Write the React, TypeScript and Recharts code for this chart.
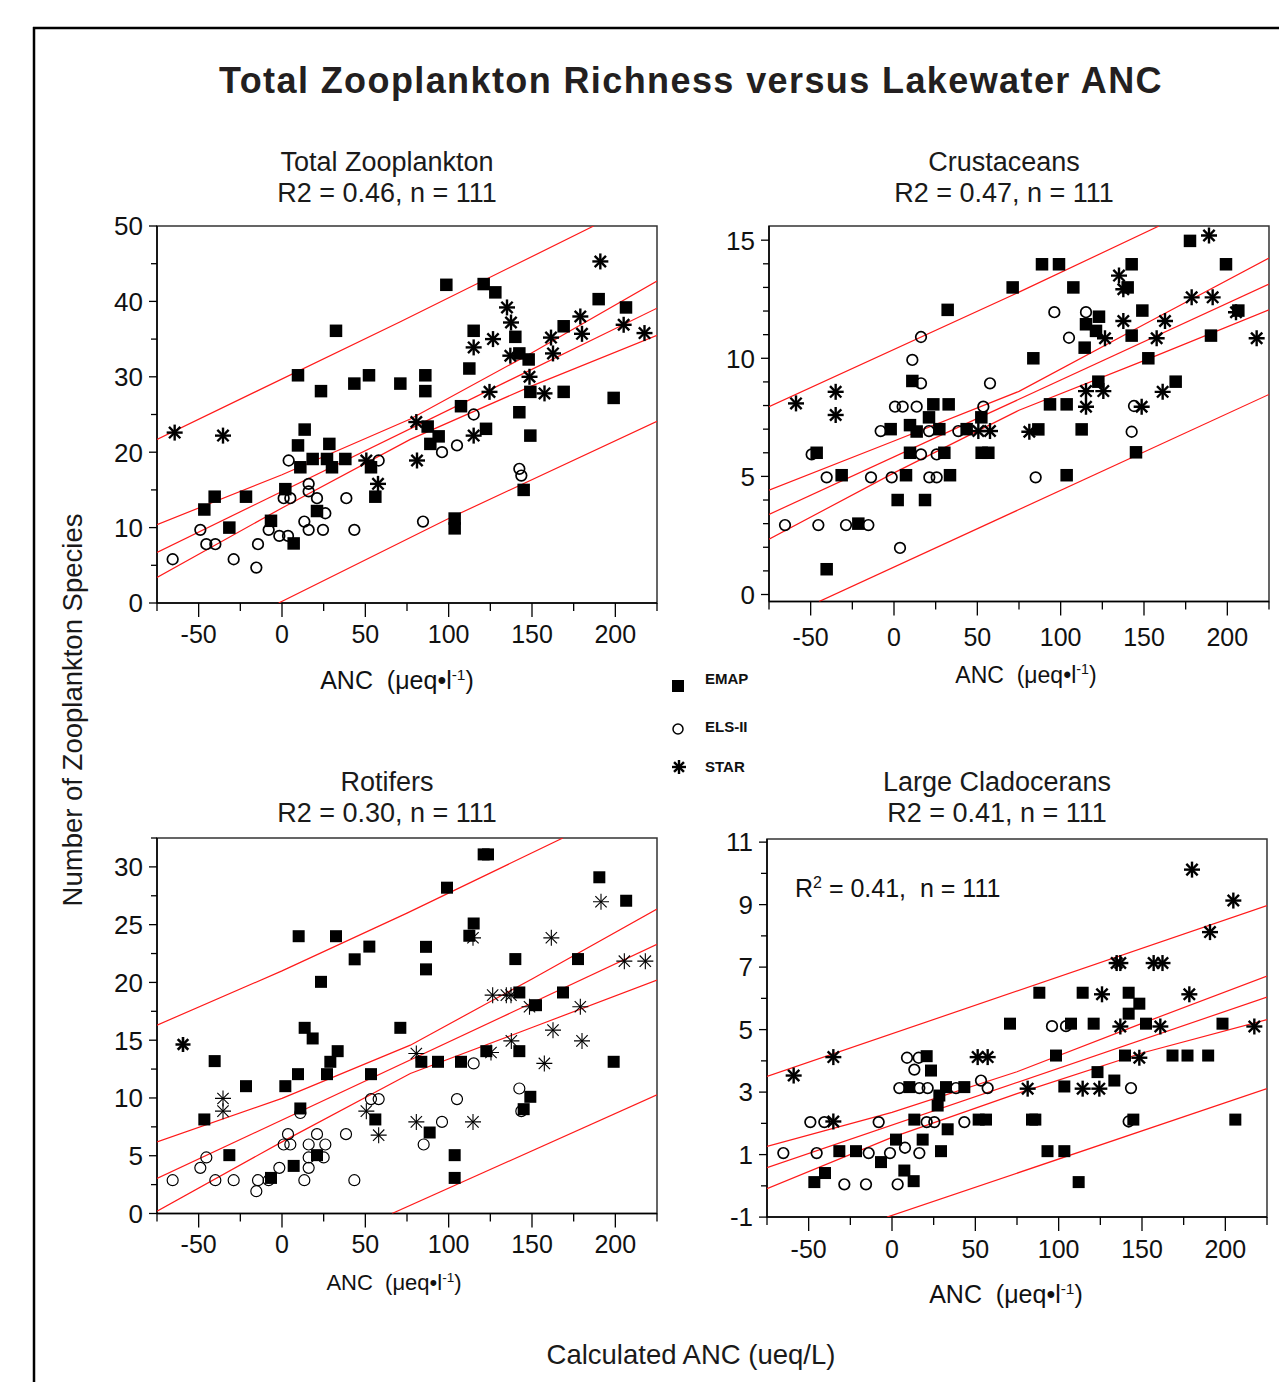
import React from 'react';
import { ScatterChart, Scatter, XAxis, YAxis, ReferenceArea } from 'recharts';

type Pt = [number, number];

// ---- shared axis ticks ----
const xTicks = [-75, -50, -25, 0, 25, 50, 75, 100, 125, 150, 175, 200, 225];
const totalYTicks = [0, 5, 10, 15, 20, 25, 30, 35, 40, 45, 50];
const crustYTicks = [0, 1, 2, 3, 4, 5, 6, 7, 8, 9, 10, 11, 12, 13, 14, 15];
const rotYTicks = [0, 2.5, 5, 7.5, 10, 12.5, 15, 17.5, 20, 22.5, 25, 27.5, 30, 32.5];
const cladYTicks = [-1, 0, 1, 2, 3, 4, 5, 6, 7, 8, 9, 10, 11];

// ---- Total Zooplankton ----
const totalEmap: Pt[] = [
  [32.4, 36.1], [9.6, 30.2], [23.4, 28.1], [43.4, 29.1], [52.2, 30.2], [71, 29.1], [13.6, 23.0], [9.6, 20.9],
  [28.4, 21.1], [18.4, 19.1], [11, 18.0], [27, 19.1], [30, 18.0], [38, 19.1], [53.4, 18.0], [2, 15.1],
  [-40.4, 14.1], [-21.6, 14.1], [-46.6, 12.4], [21, 12.2], [-6.6, 10.9], [-31.6, 10.0], [7, 7.9], [56, 14.1],
  [98.6, 42.2], [121, 42.3], [128, 41.2], [115, 36.1], [140, 35.3], [142.4, 33.1], [148, 32.3], [112.4, 31.1],
  [86, 30.2], [86, 28.1], [107.4, 26.1], [149, 28.0], [169, 28.0], [169, 36.7], [190, 40.3], [206.4, 39.2],
  [199, 27.2], [142.4, 25.3], [122.4, 23.1], [87.4, 23.4], [94, 22.1], [89, 21.1], [149, 22.2], [145, 15.0],
  [103.6, 11.2], [103.6, 9.9],
];
const totalEls: Pt[] = [
  [4, 18.9], [16, 15.8], [16, 14.8], [1, 13.9], [5, 13.9], [21, 13.9], [38.6, 13.9], [26, 11.9], [13.4, 10.8],
  [16, 9.7], [24.6, 9.7], [43.4, 9.7], [-8, 9.7], [-1.6, 8.9], [3.6, 8.9], [-49, 9.7], [-45.4, 7.8], [-40, 7.8],
  [-65.6, 5.8], [-29, 5.8], [-14.4, 7.8], [-15.4, 4.7], [58, 18.9], [115, 25.0], [105, 20.9], [96, 20.0],
  [142.4, 17.8], [143.6, 16.9], [84.6, 10.8],
];
const totalStar: Pt[] = [
  [-64.4, 22.6], [-35.4, 22.2], [50.6, 18.9], [57.6, 15.8], [191, 45.3], [135, 39.2], [137.4, 37.2], [115, 33.9],
  [126.6, 35.0], [137, 32.8], [148.5, 30.0], [124.5, 28.0], [157.5, 27.8], [161.4, 35.2], [162.6, 33.1],
  [179, 38.0], [180, 35.7], [205, 36.9], [217.5, 35.8], [80.6, 24.0], [115, 22.2], [81, 18.9],
];
const totalUpperPred: Pt[] = [[-75, 21.7], [71, 37.3], [187, 50]];
const totalUpperConf: Pt[] = [[-75, 10.4], [0, 17.0], [77, 24.4], [150, 33.2], [225, 42.7]];
const totalFit: Pt[] = [[-75, 6.7], [225, 39.1]];
const totalLowerConf: Pt[] = [[-75, 3.4], [0, 12.6], [77, 21.7], [150, 28.8], [225, 35.5]];
const totalLowerPred: Pt[] = [[-2, 0], [100, 11.2], [225, 24.1]];

// ---- Crustaceans ----
const crustEmap: Pt[] = [
  [71.2, 13.0], [32.2, 12.05], [11, 9.04], [23.6, 8.05], [32.8, 8.05], [21, 7.5], [9.6, 7.17], [13.6, 6.9],
  [27.2, 7.0], [-2, 7.0], [43.6, 7.0], [52.4, 7.5], [9.6, 6.0], [30.2, 6.0], [52.6, 6.0], [56.6, 6.0],
  [-46.4, 6.0], [7.2, 5.05], [33.6, 5.05], [-31.4, 5.05], [2.2, 4.0], [18.6, 4.0], [-21.4, 3.0], [-40.4, 1.07],
  [177.6, 14.97], [88.8, 13.98], [99, 13.98], [142.6, 13.98], [199.2, 13.98], [107.6, 13.0], [140.2, 13.0],
  [149, 12.02], [123, 11.76], [115.2, 11.44], [121.2, 11.16], [142.6, 10.96], [190.2, 10.96], [206.6, 12.02],
  [114.4, 10.45], [83.6, 10.0], [152.6, 10.0], [122.6, 9.01], [169, 9.01], [93.6, 8.05], [103.6, 8.05],
  [86.6, 6.99], [112.6, 6.99], [145.2, 6.02], [103.6, 5.05],
];
const crustEls: Pt[] = [
  [16.2, 10.9], [11, 9.93], [16.2, 8.94], [57.6, 8.94], [0.6, 7.95], [5.2, 7.95], [13.6, 7.95], [53.6, 7.95],
  [-8, 6.92], [21, 6.92], [38.6, 6.92], [-49.4, 5.93], [16.2, 5.93], [25.6, 5.93], [-40.4, 4.96], [-13.8, 4.96],
  [-1.4, 4.96], [21.2, 4.96], [25.6, 4.96], [-65.4, 2.94], [-45.4, 2.94], [-28.8, 2.94], [-15.4, 2.94],
  [3.6, 1.97], [96.2, 11.95], [115.2, 11.95], [105, 10.87], [144, 7.98], [142.6, 6.89], [85, 4.96],
];
const crustStar: Pt[] = [
  [-58.8, 8.09], [-35, 8.58], [-35, 7.6], [50.6, 6.92], [57.6, 6.92], [189, 15.2], [135, 13.5], [137.6, 12.92],
  [178.6, 12.58], [191.2, 12.58], [205.2, 11.95], [137.6, 11.58], [162.6, 11.58], [126.6, 10.85],
  [157.6, 10.85], [217.6, 10.85], [115.2, 8.61], [125.6, 8.61], [115.2, 7.95], [161.2, 8.58], [148.6, 7.95],
  [81.2, 6.89],
];
const crustUpperPred: Pt[] = [[-75, 7.95], [75, 12.8], [159, 15.6]];
const crustUpperConf: Pt[] = [[-75, 4.42], [0, 6.5], [75, 8.6], [150, 11.43], [225, 14.24]];
const crustFit: Pt[] = [[-75, 3.39], [225, 13.14]];
const crustLowerConf: Pt[] = [[-75, 2.34], [0, 5.15], [75, 7.8], [150, 9.9], [225, 12.05]];
const crustLowerPred: Pt[] = [[-45, -0.3], [225, 8.47]];

// ---- Rotifers ----
const rotEmap: Pt[] = [
  [10, 24.0], [32.4, 24.0], [52.4, 23.1], [43.6, 22.0], [23.4, 20.05], [71, 16.07], [13.6, 16.07],
  [18.4, 15.15], [33.4, 14.05], [29, 13.13], [-40.4, 13.19], [9.6, 12.06], [27, 12.06], [53.4, 12.06],
  [-21.6, 11.02], [2, 11.02], [11, 9.09], [-46.6, 8.14], [56, 8.14], [-31.6, 5.05], [21, 5.05], [7, 4.12],
  [-6.6, 3.08], [121, 31.08], [123.6, 31.08], [99, 28.2], [190.4, 29.1], [206.5, 27.07], [115, 25.1],
  [112.4, 24.04], [86.4, 23.08], [86.4, 21.13], [140, 22.02], [177.6, 22.02], [142.4, 19.13], [168.6, 19.13],
  [152.4, 18.03], [122.6, 14.05], [142.4, 14.05], [83.6, 13.13], [93.6, 13.13], [107.4, 13.13], [199, 13.13],
  [149, 10.1], [145, 9.03], [88.6, 7.01], [103.6, 5.05], [103.6, 3.08],
];
const rotEls: Pt[] = [
  [53.4, 9.9], [58, 9.9], [3.6, 6.87], [1, 5.97], [5, 5.97], [16, 5.97], [21, 6.87], [26, 5.97], [38.4, 6.87],
  [16, 4.85], [25, 4.85], [-45.4, 4.85], [-49, 3.95], [-1.6, 3.95], [16, 3.95], [-65.6, 2.88], [-40, 2.88],
  [-29, 2.88], [-14.4, 2.88], [-8, 2.88], [13.4, 2.88], [43.4, 2.88], [-15.4, 1.93], [11, 8.7], [115, 12.99],
  [105, 9.9], [96, 7.93], [85, 5.97], [142.4, 10.82], [143.6, 8.86],
];
const rotStarBold: Pt[] = [[-59.4, 14.63]];
const rotStar: Pt[] = [
  [-35.4, 9.96], [-35.4, 8.86], [50.6, 8.86], [58, 6.78], [191.4, 26.98], [161.6, 23.86], [114.6, 23.86],
  [205.4, 21.84], [218, 21.84], [126.4, 18.9], [134.6, 18.9], [137.4, 18.9], [148.5, 17.89], [179, 17.89],
  [162.6, 15.87], [137.6, 14.94], [180, 14.94], [125.4, 13.94], [80.6, 13.85], [157.4, 12.99], [80.6, 7.93],
  [114.6, 7.93],
];
const rotUpperPred: Pt[] = [[-75, 16.3], [0, 21.0], [75, 26.0], [168.5, 32.5]];
const rotUpperConf: Pt[] = [[-75, 6.2], [0, 9.96], [77, 14.57], [150, 20.3], [225, 26.35]];
const rotFit: Pt[] = [[-75, 3.03], [225, 23.29]];
const rotLowerConf: Pt[] = [[-75, 0.2], [0, 6.2], [77, 12.12], [150, 16.1], [225, 20.2]];
const rotLowerPred: Pt[] = [[66, 0], [225, 10.27]];

// ---- Large Cladocerans ----
const cladEmap: Pt[] = [
  [20.8, 4.15], [23.4, 3.69], [10.4, 3.16], [32.4, 3.16], [43.4, 3.16], [28.4, 2.89], [27.4, 2.57], [13.4, 2.12],
  [52, 2.12], [56.4, 2.12], [33.4, 1.81], [2.4, 1.48], [18.4, 1.48], [-31.6, 1.11], [-21.6, 1.11], [29.4, 1.11],
  [-6.6, 0.76], [7.4, 0.49], [-40.2, 0.41], [-46.6, 0.12], [13, 0.15], [70.8, 5.19], [88.4, 6.18],
  [114.4, 6.18], [142, 6.18], [148.4, 5.83], [142, 5.51], [107.4, 5.19], [121, 5.19], [152.4, 5.19],
  [198.3, 5.19], [98.4, 4.17], [139.8, 4.17], [168.3, 4.17], [177.3, 4.17], [189.7, 4.17], [123.3, 3.64],
  [133.4, 3.37], [103.4, 3.18], [84, 2.12], [86, 2.12], [144.8, 2.12], [206, 2.12], [93.3, 1.11],
  [103.4, 1.11], [112, 0.12],
];
const cladEls: Pt[] = [
  [9, 4.1], [16, 4.1], [13.4, 3.72], [4.4, 3.13], [16.4, 3.13], [21.4, 3.13], [38.4, 3.13], [53.4, 3.37],
  [57.4, 3.13], [-49, 2.04], [-40.6, 2.04], [-8, 2.04], [20.8, 2.04], [25.4, 2.04], [43.4, 2.04], [-65.2, 1.05],
  [-45.2, 1.05], [-14, 1.05], [-1.2, 1.05], [7.8, 1.22], [16.4, 1.05], [-28.6, 0.05], [-15.6, 0.05],
  [3.4, 0.05], [96, 5.11], [104.4, 5.11], [143.4, 3.13], [142, 2.06],
];
const cladStar: Pt[] = [
  [-59, 3.53], [-35.2, 4.12], [-35.2, 2.06], [51.4, 4.12], [57.4, 4.12], [180, 10.12], [204.8, 9.13],
  [190.8, 8.12], [134.8, 7.13], [137, 7.13], [157, 7.13], [162.3, 7.13], [126, 6.13], [178.4, 6.13],
  [137, 5.1], [161, 5.1], [217.4, 5.1], [148.4, 4.1], [81.4, 3.11], [114.4, 3.11], [124.4, 3.11],
];
const cladUpperPred: Pt[] = [[-75, 3.5], [225, 8.97]];
const cladUpperConf: Pt[] = [[-75, 1.26], [0, 2.35], [75, 3.65], [150, 5.2], [225, 6.71]];
const cladFit: Pt[] = [[-75, 0.58], [225, 6.04]];
const cladLowerConf: Pt[] = [[-75, -0.09], [0, 1.55], [75, 2.95], [150, 4.25], [225, 5.32]];
const cladLowerPred: Pt[] = [[-3, -1], [225, 3.11]];

const FONT = '"Liberation Sans", Arial, Helvetica, sans-serif';
const RED = '#ff1a1a';
const LM = 70;
const TM = 24;
const RM = 10;
const BM = 60;

const toXY = (a: Pt[]) => a.map(([x, y]) => ({ x, y }));

const squareShape = (s: number) => (p: any) => (
  <rect x={p.cx - s / 2} y={p.cy - s / 2} width={s} height={s} fill="#000" />
);
const ringShape = (r: number, w: number) => (p: any) => (
  <circle cx={p.cx} cy={p.cy} r={r} fill="#fff" fillOpacity={0} stroke="#000" strokeWidth={w} />
);
const starShape = (r: number, w: number) => (p: any) => {
  const { cx, cy } = p;
  const d = r * 0.7071;
  return (
    <g stroke="#000" strokeWidth={w}>
      <line x1={cx - r} y1={cy} x2={cx + r} y2={cy} />
      <line x1={cx} y1={cy - r} x2={cx} y2={cy + r} />
      <line x1={cx - d} y1={cy - d} x2={cx + d} y2={cy + d} />
      <line x1={cx - d} y1={cy + d} x2={cx + d} y2={cy - d} />
    </g>
  );
};
const noShape = () => <g />;

const isStep = (v: number, step: number, base = 0) => {
  const k = (v - base) / step;
  return Math.abs(k - Math.round(k)) < 1e-6;
};

interface PanelCfg {
  left: number;
  top: number;
  w: number;
  h: number;
  yDomain: [number, number];
  yTicks: number[];
  yStep: number;
  yBase: number;
  xOff: number;
  lines: Pt[][];
  emap: Pt[];
  els: Pt[];
  star: Pt[];
  starBold?: Pt[];
  sq: number;
  ring: [number, number];
  st: [number, number];
}

const Panel = ({ c }: { c: PanelCfg }) => {
  const XTick = (p: any) => {
    const v = p.payload.value;
    const major = isStep(v, 50);
    return (
      <g>
        <line x1={p.x} x2={p.x} y1={p.y} y2={p.y + (major ? 14 : 8)} stroke="#000" strokeWidth={1.3} />
        {major && (
          <text x={p.x} y={p.y + c.xOff} textAnchor="middle" fontSize={25} fontFamily={FONT} fill="#111">
            {v}
          </text>
        )}
      </g>
    );
  };
  const YTick = (p: any) => {
    const v = p.payload.value;
    const major = isStep(v, c.yStep, c.yBase);
    return (
      <g>
        <line x1={p.x} x2={p.x - (major ? 8 : 6)} y1={p.y} y2={p.y} stroke="#000" strokeWidth={1.3} />
        {major && (
          <text x={p.x - 14} y={p.y} dy="0.36em" textAnchor="end" fontSize={26} fontFamily={FONT} fill="#111">
            {v}
          </text>
        )}
      </g>
    );
  };
  return (
    <div style={{ position: 'absolute', left: c.left - LM, top: c.top - TM }}>
      <ScatterChart
        width={c.w + LM + RM}
        height={c.h + TM + BM}
        margin={{ top: TM, right: RM, bottom: 0, left: 0 }}
      >
        <XAxis
          type="number"
          dataKey="x"
          domain={[-75, 225]}
          ticks={xTicks}
          interval={0}
          allowDataOverflow
          height={BM}
          tickSize={0}
          tickMargin={0}
          tickLine={false}
          axisLine={{ stroke: '#000', strokeWidth: 1.5 }}
          tick={XTick}
        />
        <YAxis
          type="number"
          dataKey="y"
          domain={c.yDomain}
          ticks={c.yTicks}
          interval={0}
          allowDataOverflow
          width={LM}
          tickSize={0}
          tickMargin={0}
          tickLine={false}
          axisLine={{ stroke: '#000', strokeWidth: 1.5 }}
          tick={YTick}
        />
        <ReferenceArea
          x1={-75}
          x2={225}
          y1={c.yDomain[0]}
          y2={c.yDomain[1]}
          fill="none"
          stroke="#333"
          strokeWidth={1.5}
        />
        {c.lines.map((ln, i) => (
          <Scatter
            key={'l' + i}
            data={toXY(ln)}
            line={{ stroke: RED, strokeWidth: 1.2 }}
            shape={noShape}
            isAnimationActive={false}
            legendType="none"
          />
        ))}
        <Scatter data={toXY(c.els)} shape={ringShape(c.ring[0], c.ring[1])} isAnimationActive={false} />
        <Scatter data={toXY(c.emap)} shape={squareShape(c.sq)} isAnimationActive={false} />
        <Scatter data={toXY(c.star)} shape={starShape(c.st[0], c.st[1])} isAnimationActive={false} />
        {c.starBold && (
          <Scatter data={toXY(c.starBold)} shape={starShape(7.5, 2.6)} isAnimationActive={false} />
        )}
      </ScatterChart>
    </div>
  );
};

const panels: PanelCfg[] = [
  {
    left: 156.7, top: 226, w: 500, h: 377, yDomain: [0, 50], yTicks: totalYTicks, yStep: 10, yBase: 0, xOff: 40,
    lines: [totalUpperPred, totalUpperConf, totalFit, totalLowerConf, totalLowerPred],
    emap: totalEmap, els: totalEls, star: totalStar, sq: 12.5, ring: [5.3, 1.7], st: [8, 2.4],
  },
  {
    left: 769.3, top: 225.8, w: 500, h: 375.6, yDomain: [-0.3, 15.6], yTicks: crustYTicks, yStep: 5, yBase: 0, xOff: 44,
    lines: [crustUpperPred, crustUpperConf, crustFit, crustLowerConf, crustLowerPred],
    emap: crustEmap, els: crustEls, star: crustStar, sq: 12.5, ring: [5.3, 1.7], st: [8, 2.4],
  },
  {
    left: 156.7, top: 837.8, w: 500, h: 375.5, yDomain: [0, 32.5], yTicks: rotYTicks, yStep: 5, yBase: 0, xOff: 39,
    lines: [rotUpperPred, rotUpperConf, rotFit, rotLowerConf, rotLowerPred],
    emap: rotEmap, els: rotEls, star: rotStar, starBold: rotStarBold, sq: 12, ring: [5.5, 1.2], st: [8, 1.1],
  },
  {
    left: 767.3, top: 838.6, w: 500, h: 378.1, yDomain: [-1, 11.1], yTicks: cladYTicks, yStep: 2, yBase: -1, xOff: 41,
    lines: [cladUpperPred, cladUpperConf, cladFit, cladLowerConf, cladLowerPred],
    emap: cladEmap, els: cladEls, star: cladStar, sq: 12, ring: [5.3, 1.7], st: [8, 2.4],
  },
];

const AncLabel = ({ x, y, size }: { x: number; y: number; size: number }) => (
  <text x={x} y={y} textAnchor="middle" fontSize={size} fontFamily={FONT} fill="#111" style={{ whiteSpace: 'pre' }}>
    <tspan>{'ANC  (μeq•l'}</tspan>
    <tspan dy={-size * 0.38} fontSize={size * 0.62}>-1</tspan>
    <tspan dy={size * 0.38}>)</tspan>
  </text>
);

const PanelTitle = ({ x, y, name, stat }: { x: number; y: number; name: string; stat: string }) => (
  <g fontSize={27} fontFamily={FONT} fill="#1a1a1a" textAnchor="middle">
    <text x={x} y={y}>{name}</text>
    <text x={x} y={y + 31}>{stat}</text>
  </g>
);

export default function App() {
  return (
    <div style={{ position: 'absolute', left: 0, top: 0, width: 1279, height: 1382, background: '#fff', overflow: 'hidden' }}>
      {panels.map((c, i) => (
        <Panel key={i} c={c} />
      ))}
      <svg width={1279} height={1382} style={{ position: 'absolute', left: 0, top: 0, pointerEvents: 'none' }}>
        <line x1={34} y1={27} x2={34} y2={1382} stroke="#000" strokeWidth={2.5} />
        <line x1={33} y1={28} x2={1279} y2={28} stroke="#000" strokeWidth={2.5} />
        <text
          x={691}
          y={93}
          textAnchor="middle"
          fontSize={36}
          letterSpacing={1.4}
          fontWeight="bold"
          fontFamily={FONT}
          fill="#231f20"
        >
          Total Zooplankton Richness versus Lakewater ANC
        </text>
        <PanelTitle x={387} y={171} name="Total Zooplankton" stat="R2 = 0.46, n = 111" />
        <PanelTitle x={1004} y={171} name="Crustaceans" stat="R2 = 0.47, n = 111" />
        <PanelTitle x={387} y={791} name="Rotifers" stat="R2 = 0.30, n = 111" />
        <PanelTitle x={997} y={791} name="Large Cladocerans" stat="R2 = 0.41, n = 111" />
        <text
          x={82}
          y={710}
          transform="rotate(-90 82 710)"
          textAnchor="middle"
          fontSize={27.5}
          fontFamily={FONT}
          fill="#1a1a1a"
        >
          Number of Zooplankton Species
        </text>
        <text x={691} y={1364} textAnchor="middle" fontSize={27.5} fontFamily={FONT} fill="#1a1a1a">
          Calculated ANC (ueq/L)
        </text>
        <AncLabel x={397} y={689} size={25} />
        <AncLabel x={1026} y={683} size={23} />
        <AncLabel x={394} y={1290} size={22} />
        <AncLabel x={1006} y={1303} size={25} />
        <text x={795} y={897} fontSize={25} fontFamily={FONT} fill="#111" style={{ whiteSpace: 'pre' }}>
          <tspan>R</tspan>
          <tspan dy={-9} fontSize={16}>2</tspan>
          <tspan dy={9}>{' = 0.41,  n = 111'}</tspan>
        </text>
        <g fontSize={15} fontWeight="bold" fontFamily={FONT} fill="#111">
          {squareShape(12)({ cx: 678, cy: 686 })}
          <text x={705} y={684}>EMAP</text>
          {ringShape(5, 1.5)({ cx: 678, cy: 729 })}
          <text x={705} y={732}>ELS-II</text>
          {starShape(7, 2.4)({ cx: 679, cy: 767 })}
          <text x={705} y={772}>STAR</text>
        </g>
      </svg>
    </div>
  );
}
